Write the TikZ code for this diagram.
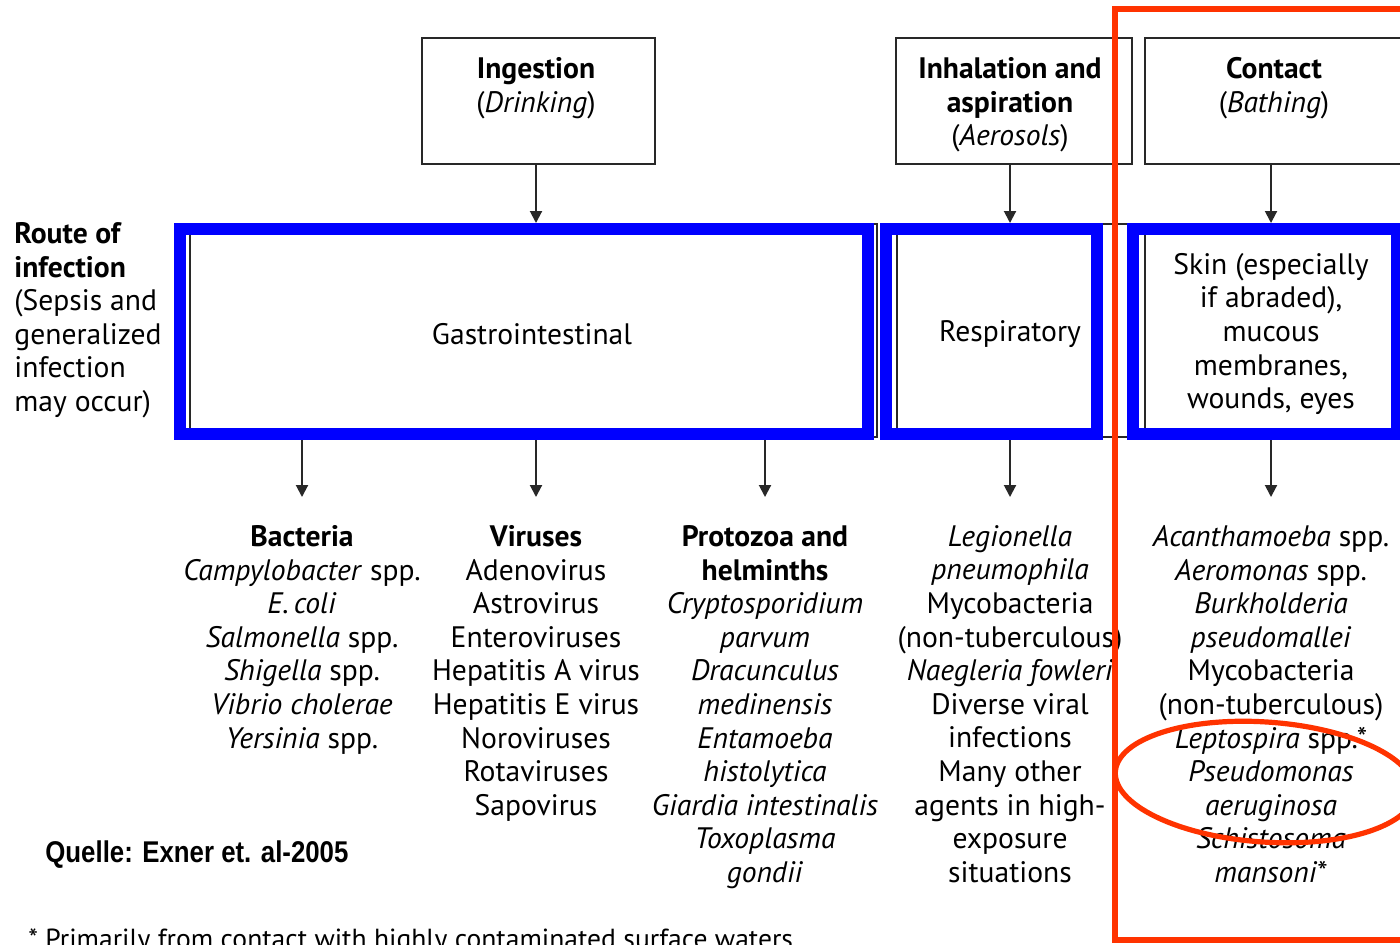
\documentclass[tikz,border=0pt]{standalone}
\usepackage{fontspec}
\usepackage{graphicx}
\setmainfont{PT Sans}
\newfontfamily\arialfont{Liberation Sans}
\usetikzlibrary{arrows.meta}
\definecolor{hiblue}{RGB}{0,0,255}
\definecolor{hired}{RGB}{255,51,0}
\definecolor{framegray}{RGB}{40,40,40}
\begin{document}
\begin{tikzpicture}[x=0.5pt,y=-0.5pt,
  frame/.style={draw=framegray, line width=1pt, inner sep=0pt},
  txt/.style={font=\fontsize{14.8}{16.8}\selectfont, align=center, inner sep=0pt},
  arr/.style={draw=framegray, line width=1pt, -{Triangle[width=6pt,length=6pt]}},
  bluebox/.style={draw=hiblue, line width=6pt},
  redmark/.style={draw=hired, line width=2.6pt}]
\useasboundingbox (0,0) rectangle (1400,944);
\fill[white] (0,0) rectangle (1400,944);

% top boxes
\node[frame, minimum width=116.5pt, minimum height=63pt] (ing) at (538.5,101) {};
\node[txt, anchor=north] (ingT) at (536,57) {\textbf{Ingestion}\\(\textit{Drinking})};
\node[frame, minimum width=118pt, minimum height=63pt] (inh) at (1014,101) {};
\node[txt, anchor=north] (inhT) at (1010,57) {\textbf{Inhalation and}\\\textbf{aspiration}\\(\textit{Aerosols})};
\node[frame, minimum width=129pt, minimum height=63pt] (con) at (1274,101) {};
\node[txt, anchor=north] (conT) at (1274,57) {\textbf{Contact}\\(\textit{Bathing})};

% route boxes
\node[frame, minimum width=343.5pt, minimum height=106.5pt] (gi) at (533.5,330.5) {};
\node[frame, minimum width=118pt, minimum height=106.5pt] (re) at (1015,330.5) {};
\node[frame, minimum width=132.5pt, minimum height=106.5pt] (sk) at (1277.5,330.5) {};
\node[txt] (giT) at (532,334) {Gastrointestinal};
\node[txt] (reT) at (1010,334) {Respiratory};
\node[txt] (skT) at (1271,334) {Skin (especially\\if abraded),\\mucous\\membranes,\\wounds, eyes};

% arrows from top boxes
\draw[arr] (ing.south -| ingT.south) -- (ingT.south |- gi.north);
\draw[arr] (inh.south -| inhT.south) -- (inhT.south |- re.north);
\draw[arr] (con.south -| skT.south) -- (skT.south |- sk.north);

% arrow ends
\coordinate (a1) at (302,497);
\coordinate (a2) at (536,497);
\coordinate (a3) at (765,497);
\coordinate (a4) at (1010,497);
\coordinate (a5) at (1271,497);
\draw[arr] (a1 |- gi.south) -- (a1);
\draw[arr] (a2 |- gi.south) -- (a2);
\draw[arr] (a3 |- gi.south) -- (a3);
\draw[arr] (a4 |- re.south) -- (a4);
\draw[arr] (a5 |- sk.south) -- (a5);

% left label
\node[txt, align=left, anchor=north west] (route) at (14,222)
  {\textbf{Route of}\\\textbf{infection}\\(Sepsis and\\generalized\\infection\\may occur)};

% columns
\node[txt, anchor=north] (bac) at (302,525) {\textbf{Bacteria}\\\textit{Campylobacter} spp.\\\textit{E.\,coli}\\\textit{Salmonella} spp.\\\textit{Shigella} spp.\\\textit{Vibrio cholerae}\\\textit{Yersinia} spp.};
\node[txt, anchor=north] (vir) at (536,525) {\textbf{Viruses}\\Adenovirus\\Astrovirus\\Enteroviruses\\Hepatitis A virus\\Hepatitis E virus\\Noroviruses\\Rotaviruses\\Sapovirus};
\node[txt, anchor=north] (pro) at (765,525) {\textbf{Protozoa and}\\\textbf{helminths}\\\textit{Cryptosporidium}\\\textit{parvum}\\\textit{Dracunculus}\\\textit{medinensis}\\\textit{Entamoeba}\\\textit{histolytica}\\\textit{Giardia intestinalis}\\\textit{Toxoplasma}\\\textit{gondii}};
\node[txt, anchor=north] (res) at (1010,525) {\textit{Legionella}\\\textit{pneumophila}\\Mycobacteria\\(non-tuberculous)\\\textit{Naegleria fowleri}\\Diverse viral\\infections\\Many other\\agents in high-\\exposure\\situations};
\node[txt, anchor=north] (ski) at (1271,525) {\textit{Acanthamoeba} spp.\\\textit{Aeromonas} spp.\\\textit{Burkholderia}\\\textit{pseudomallei}\\Mycobacteria\\(non-tuberculous)\\\textit{Leptospira} spp.*\\\textit{Pseudomonas}\\\textit{aeruginosa}\\\textit{Schistosoma}\\\textit{mansoni}*};

% source and footnote
\node[anchor=base west, inner sep=0pt] (src) at (45,862)
  {\scalebox{0.86}[1]{\arialfont\bfseries\fontsize{15}{18}\selectfont Quelle: Exner et. al-2005}};
\node[anchor=base west, inner sep=0pt, font=\fontsize{13.8}{16.8}\selectfont] (fn) at (28,948) {* Primarily from contact with highly contaminated surface waters.};

% highlight marks
\draw[bluebox] (180,229) rectangle (868,434);
\draw[bluebox] (886,229) rectangle (1097,434);
\draw[bluebox] (1133,229) rectangle (1397,434);
\draw[redmark] (1115,9) rectangle (1430,940);
\draw[redmark, rotate around={-4:(1265,782)}] (1265,782) ellipse [x radius=150, y radius=60];
\end{tikzpicture}
\end{document}
